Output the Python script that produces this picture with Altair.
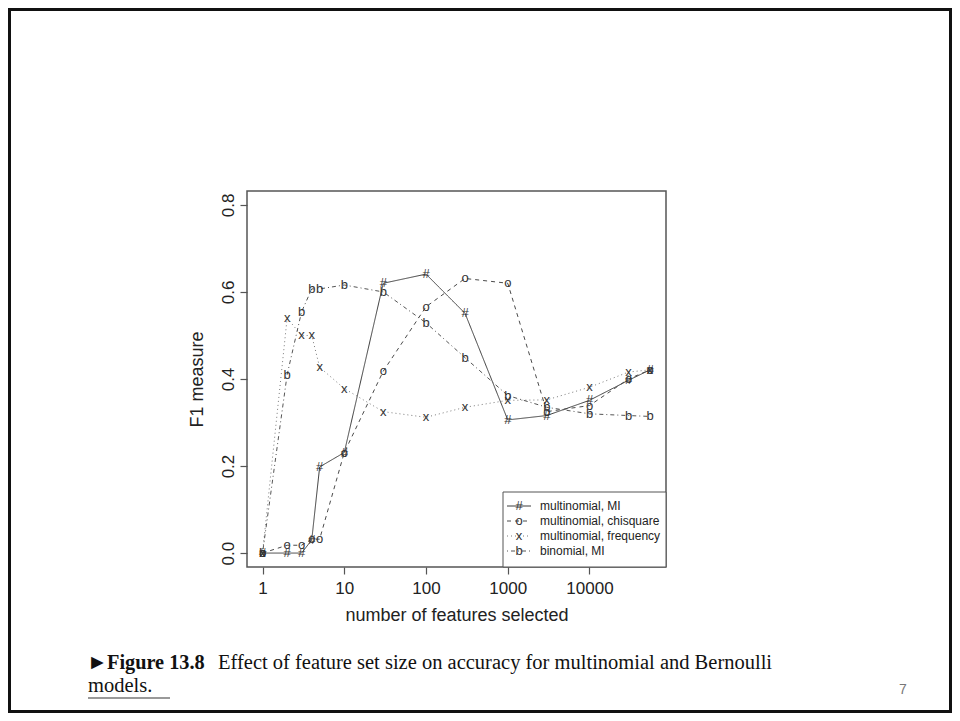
import altair as alt
import pandas as pd

# ---------------- data ----------------
features = [1, 2, 3, 4, 5, 10, 30, 100, 300, 1000, 3000, 10000, 30000, 55000]
models = ["multinomial, MI", "multinomial, chisquare", "multinomial, frequency", "binomial, MI"]
symbols = ["#", "o", "x", "b"]
f1_mult_mi = [0.0, 0.0, 0.0, 0.03, 0.198, 0.231, 0.62, 0.641, 0.551, 0.306, 0.316, 0.351, 0.397, 0.421]
f1_mult_chi = [0.0, 0.018, 0.018, 0.032, 0.032, 0.231, 0.418, 0.566, 0.631, 0.62, 0.325, 0.339, 0.40, 0.421]
f1_mult_freq = [0.0, 0.54, 0.50, 0.50, 0.427, 0.378, 0.325, 0.312, 0.335, 0.351, 0.352, 0.381, 0.416, 0.421]
f1_binom_mi = [0.0, 0.41, 0.554, 0.607, 0.607, 0.616, 0.60, 0.529, 0.449, 0.362, 0.335, 0.32, 0.316, 0.314]
x_ticks = [1, 10, 100, 1000, 10000]
y_ticks = [0.0, 0.2, 0.4, 0.6, 0.8]
caption_arrow = "\u25ba"
caption_bold = "Figure 13.8"
caption_rest = "Effect of feature set size on accuracy for multinomial and Bernoulli"
caption_line2 = "models."
page_number = "7"

rows = []
for m, s, vals in zip(models, symbols, [f1_mult_mi, f1_mult_chi, f1_mult_freq, f1_binom_mi]):
    for f, v in zip(features, vals):
        rows.append({"features": f, "f1": v, "model": m, "symbol": s})
df = pd.DataFrame(rows)

# ---------------- styling ----------------
W, H = 419, 376
PAD_L, PAD_T, PAD_R, PAD_B = 239, 183, 286, 146
dash_range = [[1, 0], [4, 4], [1, 3], [1, 3, 4, 3]]
stroke_range = ["#3c3c3c", "#4a4a4a", "#7a7a7a", "#555555"]
SANS = "Liberation Sans"
SERIF = "Liberation Serif"

x_enc = alt.X(
    "features:Q",
    scale=alt.Scale(type="log", domain=[0.6457, 86300], nice=False, zero=False),
    axis=alt.Axis(
        values=x_ticks, format="d", title="number of features selected",
        grid=False, domain=False, tickSize=7, tickColor="#555", tickWidth=1.2,
        labelFontSize=17, labelBaseline="top", labelPadding=6, labelFlush=False,
        titleFontSize=18, titleBaseline="alphabetic", titleY=53,
    ),
)
y_enc = alt.Y(
    "f1:Q",
    scale=alt.Scale(domain=[-0.032, 0.832], nice=False, zero=False),
    axis=alt.Axis(
        values=y_ticks, format=".1f", title="F1 measure",
        grid=False, domain=False, tickSize=7, tickColor="#555", tickWidth=1.2,
        labelFontSize=17, labelAngle=270, labelAlign="center", labelBaseline="alphabetic",
        labelPadding=7, labelFlush=False,
        titleFontSize=18, titleAngle=270, titleAlign="center", titleBaseline="middle",
        titleX=-50, titleY=H / 2,
    ),
)

lines = alt.Chart(df).mark_line(strokeWidth=1).encode(
    x=x_enc, y=y_enc,
    color=alt.Color("model:N", scale=alt.Scale(domain=models, range=stroke_range), legend=None),
    strokeDash=alt.StrokeDash("model:N", scale=alt.Scale(domain=models, range=dash_range), legend=None),
    detail="model:N",
)
points = alt.Chart(df).mark_text(
    font=SANS, fontSize=13, color="#333", align="center", baseline="middle"
).encode(x=x_enc, y=y_enc, text="symbol:N")

one = pd.DataFrame({"k": [0]})

# legend box
legend_layers = [
    alt.Chart(one).mark_rect(fill="white", stroke="#555", strokeWidth=1).encode(
        x=alt.value(256), x2=alt.value(W), y=alt.value(301), y2=alt.value(H)
    )
]
for i, (m, s) in enumerate(zip(models, symbols)):
    yy = 315 + 15 * i
    legend_layers.append(
        alt.Chart(one).mark_rule(color=stroke_range[i], strokeDash=dash_range[i], strokeWidth=1).encode(
            x=alt.value(260), x2=alt.value(284), y=alt.value(yy)
        )
    )
    legend_layers.append(
        alt.Chart(pd.DataFrame({"t": [s]})).mark_text(
            font=SANS, fontSize=13, color="#333", align="center", baseline="middle"
        ).encode(x=alt.value(272), y=alt.value(yy), text="t:N")
    )
    legend_layers.append(
        alt.Chart(pd.DataFrame({"t": [m]})).mark_text(
            font=SANS, fontSize=12, color="#222", align="left", baseline="middle"
        ).encode(x=alt.value(293), y=alt.value(yy), text="t:N")
    )

# caption / page furniture
furniture = [
    alt.Chart(pd.DataFrame({"t": [caption_arrow]})).mark_text(
        font=SERIF, fontSize=21, color="#111", align="left", baseline="alphabetic"
    ).encode(x=alt.value(87 - 247), y=alt.value(669 - 191), text="t:N"),
    alt.Chart(pd.DataFrame({"t": [caption_bold]})).mark_text(
        font=SERIF, fontSize=20.3, fontWeight="bold", color="#111", align="left", baseline="alphabetic"
    ).encode(x=alt.value(107 - 247), y=alt.value(669 - 191), text="t:N"),
    alt.Chart(pd.DataFrame({"t": [caption_rest]})).mark_text(
        font=SERIF, fontSize=20.5, color="#111", align="left", baseline="alphabetic"
    ).encode(x=alt.value(218 - 247), y=alt.value(669 - 191), text="t:N"),
    alt.Chart(pd.DataFrame({"t": [caption_line2]})).mark_text(
        font=SERIF, fontSize=20.5, color="#111", align="left", baseline="alphabetic"
    ).encode(x=alt.value(88 - 247), y=alt.value(692 - 191), text="t:N"),
    alt.Chart(one).mark_rule(color="#999", strokeWidth=2).encode(
        x=alt.value(88 - 247), x2=alt.value(170 - 247), y=alt.value(698 - 191)
    ),
    alt.Chart(pd.DataFrame({"t": [page_number]})).mark_text(
        font=SANS, fontSize=14, color="#777", align="center", baseline="alphabetic"
    ).encode(x=alt.value(903 - 247), y=alt.value(694 - 191), text="t:N"),
    alt.Chart(one).mark_rect(fill=None, stroke="#111", strokeWidth=3).encode(
        x=alt.value(-PAD_L + 1.5), x2=alt.value(W + PAD_R - 1.5),
        y=alt.value(-PAD_T + 1.5), y2=alt.value(H + PAD_B - 1.5),
    ),
]

chart = alt.layer(lines, points, *legend_layers, *furniture).properties(
    width=W, height=H,
    padding={"left": PAD_L, "top": PAD_T, "right": PAD_R, "bottom": PAD_B},
    autosize=alt.AutoSizeParams(type="none"),
    background="white",
).configure_view(
    stroke="#555", strokeWidth=1.5
).configure_axis(
    labelFont=SANS, titleFont=SANS, labelColor="#222", titleColor="#222", titleFontWeight="normal"
)

chart.save("out.html", embed_options={"renderer": "svg", "actions": False})
